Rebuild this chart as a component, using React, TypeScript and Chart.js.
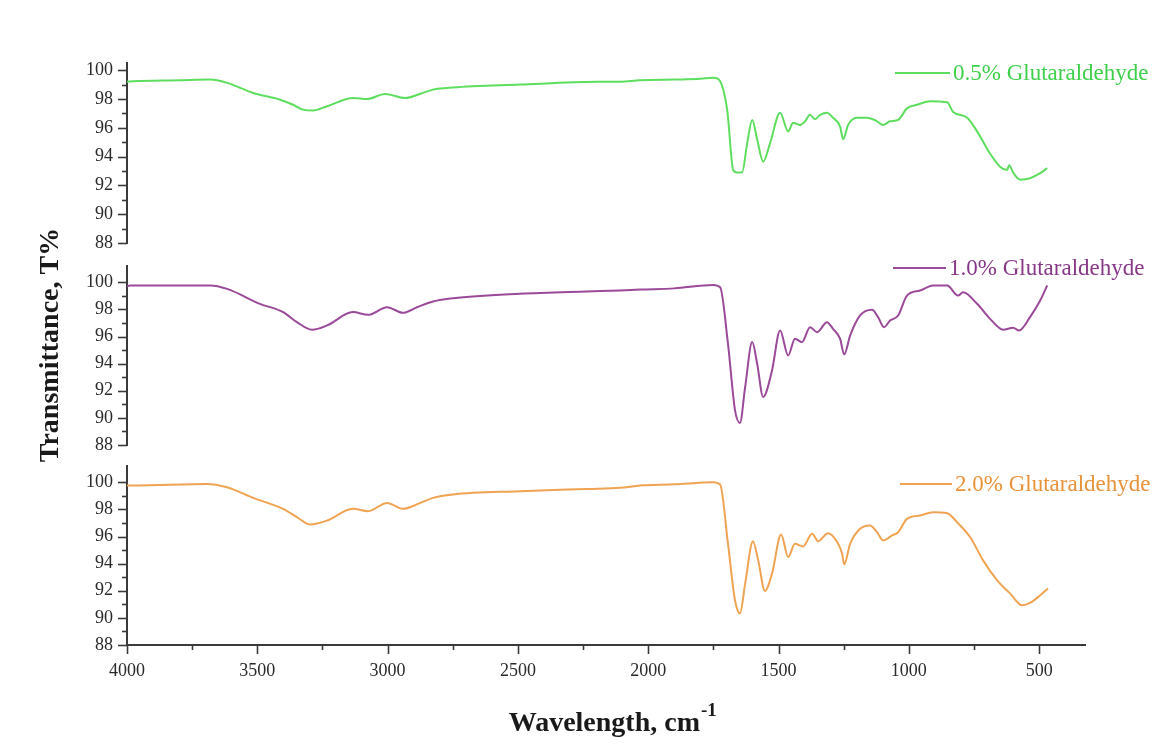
import { useEffect, useRef } from 'react';
import { Chart, registerables } from 'chart.js';

Chart.register(...registerables);

// ---------- DATA ----------
const SERIES_LABELS = ['0.5% Glutaraldehyde', '1.0% Glutaraldehyde', '2.0% Glutaraldehyde'];

const WN_05 = [4000, 3977, 3800, 3681, 3616, 3516, 3413, 3363, 3325, 3286, 3232, 3133, 3079, 3010, 2933, 2876, 2826, 2749, 2492, 2196, 2108, 2031, 1900, 1800, 1751, 1732, 1697, 1674, 1659, 1640, 1620, 1601, 1582, 1559, 1532, 1494, 1463, 1444, 1417, 1398, 1379, 1360, 1340, 1314, 1291, 1264, 1252, 1233, 1199, 1160, 1122, 1099, 1072, 1041, 1007, 968, 918, 853, 830, 776, 738, 688, 650, 623, 615, 600, 573, 535, 496, 469];
const T_05 = [99.2, 99.23, 99.3, 99.35, 99.12, 98.42, 97.95, 97.6, 97.26, 97.2, 97.5, 98.07, 98.0, 98.35, 98.07, 98.35, 98.65, 98.8, 99.0, 99.19, 99.2, 99.3, 99.35, 99.4, 99.47, 99.4, 97.25, 93.07, 92.9, 92.9, 94.95, 96.55, 95.2, 93.65, 94.95, 97.05, 95.75, 96.35, 96.2, 96.45, 96.9, 96.6, 96.9, 97.05, 96.7, 96.1, 95.2, 96.2, 96.7, 96.7, 96.45, 96.2, 96.45, 96.55, 97.35, 97.6, 97.85, 97.77, 97.1, 96.7, 95.75, 94.2, 93.3, 93.07, 93.4, 92.9, 92.4, 92.5, 92.85, 93.2];

const WN_10 = [4000, 3988, 3681, 3616, 3490, 3401, 3348, 3290, 3232, 3133, 3075, 3002, 2941, 2887, 2826, 2749, 2492, 2235, 2108, 2031, 1900, 1751, 1724, 1694, 1667, 1648, 1628, 1601, 1582, 1559, 1525, 1494, 1463, 1437, 1410, 1379, 1352, 1314, 1291, 1264, 1248, 1225, 1187, 1141, 1118, 1095, 1072, 1041, 1007, 957, 907, 853, 811, 792, 738, 688, 638, 600, 577, 535, 496, 469];
const T_10 = [99.7, 99.76, 99.76, 99.51, 98.41, 97.8, 97.06, 96.5, 96.82, 97.8, 97.6, 98.16, 97.75, 98.16, 98.58, 98.82, 99.15, 99.32, 99.39, 99.46, 99.55, 99.8, 99.63, 95.47, 90.57, 89.63, 92.28, 95.59, 94.0, 91.54, 93.5, 96.45, 94.6, 95.84, 95.59, 96.69, 96.32, 97.06, 96.57, 95.84, 94.68, 96.08, 97.55, 97.97, 97.43, 96.69, 97.18, 97.55, 99.02, 99.39, 99.76, 99.76, 99.02, 99.26, 98.41, 97.3, 96.5, 96.65, 96.45, 97.43, 98.65, 99.76];

const WN_20 = [4000, 3977, 3693, 3616, 3516, 3401, 3348, 3298, 3232, 3133, 3075, 3002, 2941, 2876, 2826, 2749, 2492, 2235, 2108, 2031, 1900, 1751, 1724, 1694, 1667, 1648, 1628, 1598, 1578, 1552, 1525, 1490, 1463, 1437, 1406, 1371, 1348, 1310, 1275, 1256, 1248, 1225, 1187, 1149, 1122, 1099, 1064, 1041, 1007, 957, 907, 853, 815, 765, 715, 661, 611, 565, 535, 496, 466];
const T_20 = [99.76, 99.76, 99.88, 99.63, 98.85, 98.04, 97.43, 96.89, 97.18, 98.04, 97.87, 98.48, 98.04, 98.46, 98.85, 99.1, 99.34, 99.51, 99.59, 99.76, 99.85, 100.0, 99.83, 95.47, 91.3, 90.32, 92.53, 95.66, 94.24, 91.99, 93.26, 96.15, 94.49, 95.47, 95.27, 96.2, 95.66, 96.25, 95.59, 94.74, 93.95, 95.47, 96.57, 96.82, 96.32, 95.71, 96.08, 96.32, 97.3, 97.55, 97.79, 97.72, 97.06, 95.96, 94.24, 92.77, 91.79, 90.93, 91.1, 91.67, 92.16];

const X_TICKS = [4000, 3750, 3500, 3250, 3000, 2750, 2500, 2250, 2000, 1750, 1500, 1250, 1000, 750, 500];
const Y_TICKS = [88, 89, 90, 91, 92, 93, 94, 95, 96, 97, 98, 99, 100];

// ---------- STYLE / LAYOUT ----------
const W = 1173;
const H = 747;
const AXIS_COLOR = '#3a3a3a';
const TICK_FONT = { family: '"Liberation Serif", "Times New Roman", serif', size: 18 };
const SERIF = '"Liberation Serif", "Times New Roman", serif';

type Panel = {
  wn: number[];
  t: number[];
  label: string;
  color: string;
  textColor: string;
  top: number;
  bottom: number;
  yMax: number;
  showX: boolean;
  legendY: number;
  legendX1: number;
  legendX2: number;
  textX: number;
  yTitle: boolean;
};

const PANELS: Panel[] = [
  { wn: WN_05, t: T_05, label: SERIES_LABELS[0], color: '#5ede5e', textColor: '#3fcf4a', top: 63, bottom: 243, yMax: 100.5, showX: false, legendY: 73, legendX1: 895, legendX2: 950, textX: 953, yTitle: false },
  { wn: WN_10, t: T_10, label: SERIES_LABELS[1], color: '#9a4a98', textColor: '#873887', top: 266, bottom: 445, yMax: 101.2, showX: false, legendY: 268, legendX1: 893, legendX2: 946, textX: 949, yTitle: true },
  { wn: WN_20, t: T_20, label: SERIES_LABELS[2], color: '#f0a352', textColor: '#e8923a', top: 466, bottom: 645, yMax: 101.2, showX: true, legendY: 484, legendX1: 900, legendX2: 952, textX: 955, yTitle: false },
];

function makeDecor(p: Panel) {
  return {
    id: 'decor',
    afterDraw(chart: any) {
      const ctx: CanvasRenderingContext2D = chart.ctx;
      const ys = chart.scales.y;
      const xs = chart.scales.x;
      const axisX = chart.chartArea.left;
      ctx.save();
      ctx.strokeStyle = AXIS_COLOR;
      ctx.lineWidth = 1.6;
      for (const v of Y_TICKS) {
        const py = Math.round(ys.getPixelForValue(v)) + 0.5;
        const len = v % 2 === 0 ? 9 : 5;
        ctx.beginPath();
        ctx.moveTo(axisX - len, py);
        ctx.lineTo(axisX, py);
        ctx.stroke();
      }
      if (p.showX) {
        const axisY = chart.chartArea.bottom;
        for (const v of X_TICKS) {
          const px = Math.round(xs.getPixelForValue(v)) + 0.5;
          const len = v % 500 === 0 ? 9 : 5;
          ctx.beginPath();
          ctx.moveTo(px, axisY);
          ctx.lineTo(px, axisY + len);
          ctx.stroke();
        }
        // x axis title with superscript
        ctx.fillStyle = '#1a1a1a';
        ctx.font = `bold 28px ${SERIF}`;
        ctx.textBaseline = 'alphabetic';
        ctx.textAlign = 'right';
        ctx.fillText('Wavelength, cm', 700, 731);
        ctx.font = `bold 19px ${SERIF}`;
        ctx.textAlign = 'left';
        ctx.fillText('-1', 701, 716);
      }
      // legend
      ctx.strokeStyle = p.color;
      ctx.lineWidth = 2;
      ctx.beginPath();
      ctx.moveTo(p.legendX1, p.legendY);
      ctx.lineTo(p.legendX2, p.legendY);
      ctx.stroke();
      ctx.fillStyle = p.textColor;
      ctx.font = `23px ${SERIF}`;
      ctx.textAlign = 'left';
      ctx.textBaseline = 'middle';
      ctx.fillText(p.label, p.textX, p.legendY + 1);
      if (p.yTitle) {
        ctx.save();
        ctx.translate(51, 345);
        ctx.rotate(-Math.PI / 2);
        ctx.fillStyle = '#1a1a1a';
        ctx.font = `bold 28px ${SERIF}`;
        ctx.textAlign = 'center';
        ctx.textBaseline = 'middle';
        ctx.fillText('Transmittance, T%', 0, 0);
        ctx.restore();
      }
      ctx.restore();
    },
  };
}

function makeConfig(p: Panel): any {
  const data = p.wn.map((w, i) => ({ x: w, y: p.t[i] }));
  return {
    type: 'line',
    data: {
      datasets: [
        {
          label: p.label,
          data,
          borderColor: p.color,
          backgroundColor: p.color,
          borderWidth: 2,
          pointRadius: 0,
          fill: false,
          cubicInterpolationMode: 'monotone',
        },
      ],
    },
    options: {
      responsive: false,
      animation: false,
      devicePixelRatio: 1,
      layout: {
        padding: { left: 0, right: W - 1085, top: p.top, bottom: p.showX ? 0 : H - p.bottom },
      },
      plugins: { legend: { display: false }, tooltip: { enabled: false }, title: { display: false } },
      scales: {
        x: {
          type: 'linear',
          min: 324,
          max: 4000,
          reverse: true,
          display: p.showX,
          afterFit: (s: any) => {
            s.height = p.showX ? H - p.bottom : 0;
          },
          afterBuildTicks: (s: any) => {
            s.ticks = X_TICKS.map((v) => ({ value: v }));
          },
          ticks: {
            autoSkip: false,
            maxRotation: 0,
            padding: 6,
            color: '#2a2a2a',
            font: TICK_FONT,
            callback: (v: number) => (v % 500 === 0 ? String(v) : ''),
          },
          grid: { display: true, drawOnChartArea: false, color: 'rgba(0,0,0,0)', tickLength: 9 },
          border: { display: true, color: AXIS_COLOR, width: 2 },
        },
        y: {
          type: 'linear',
          min: 88,
          max: p.yMax,
          afterFit: (s: any) => {
            s.width = 127;
          },
          afterBuildTicks: (s: any) => {
            s.ticks = Y_TICKS.map((v) => ({ value: v }));
          },
          ticks: {
            autoSkip: false,
            padding: 5,
            color: '#2a2a2a',
            font: TICK_FONT,
            callback: (v: number) => (v % 2 === 0 ? String(v) : ''),
          },
          grid: { display: true, drawOnChartArea: false, color: 'rgba(0,0,0,0)', tickLength: 9 },
          border: { display: true, color: AXIS_COLOR, width: 2 },
        },
      },
    },
    plugins: [makeDecor(p)],
  };
}

function PanelCanvas({ p }: { p: Panel }) {
  const ref = useRef<HTMLCanvasElement | null>(null);
  useEffect(() => {
    if (!ref.current) return;
    const chart = new Chart(ref.current, makeConfig(p));
    return () => chart.destroy();
  }, [p]);
  return (
    <canvas
      ref={ref}
      width={W}
      height={H}
      style={{ position: 'absolute', left: 0, top: 0, width: W, height: H }}
    />
  );
}

export default function App() {
  return (
    <div style={{ position: 'absolute', left: 0, top: 0, width: W, height: H, background: '#ffffff', overflow: 'hidden' }}>
      {PANELS.map((p, i) => (
        <PanelCanvas key={i} p={p} />
      ))}
    </div>
  );
}
